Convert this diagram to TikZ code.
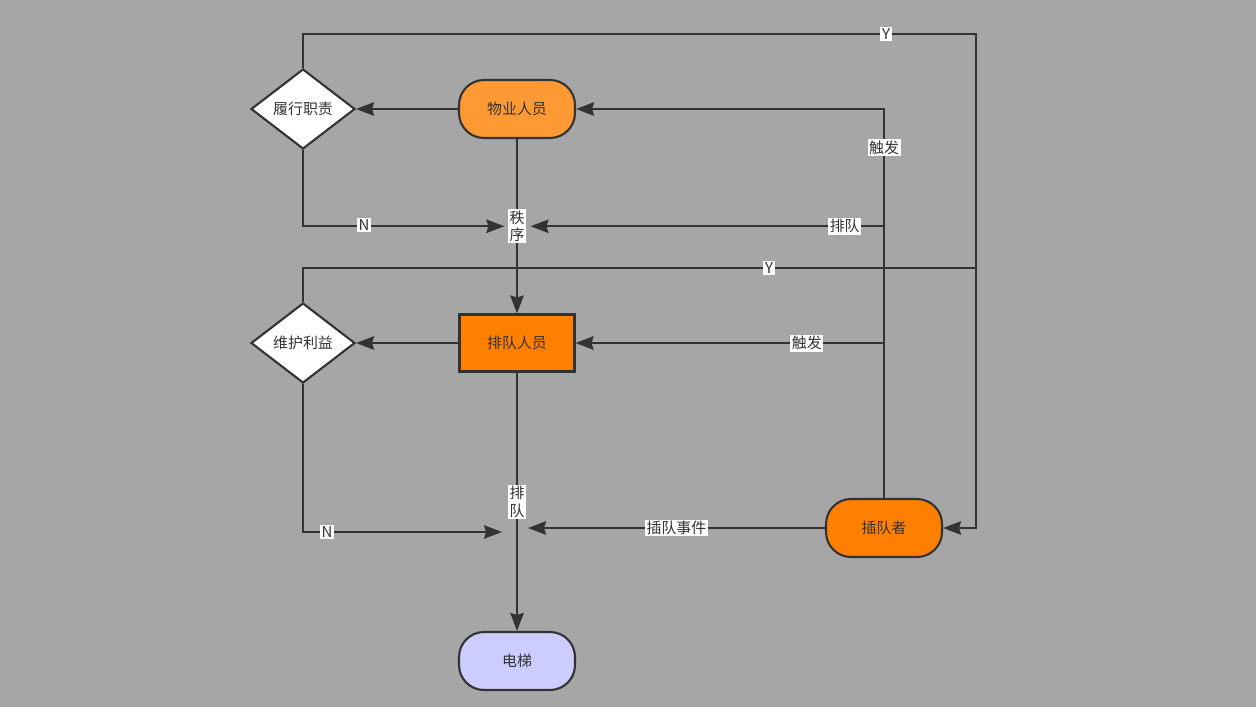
\documentclass[tikz,border=0pt]{standalone}
\usepackage{fontspec}
\setmainfont{Noto Sans CJK SC}
\usepackage{tikz}
\usetikzlibrary{shapes.geometric,arrows.meta}

\definecolor{bggray}{HTML}{A6A6A6}
\definecolor{linegray}{HTML}{333333}
\definecolor{staffor}{HTML}{FF9933}
\definecolor{queueor}{HTML}{FF8000}
\definecolor{liftblue}{HTML}{CCCCFF}

\tikzset{
  flow/.style={draw=linegray, line width=1.2pt, text=linegray, font=\fontsize{8.5}{10}\selectfont},
  pill/.style={flow, rectangle, rounded corners=0.5cm, minimum width=2.32cm, minimum height=1.16cm},
  box/.style={flow, rectangle, minimum width=2.3cm, minimum height=1.14cm},
  choice/.style={flow, diamond, fill=white, minimum width=2.08cm, minimum height=1.6cm, inner sep=0pt},
  lbl/.style={fill=white, inner sep=0.9pt, text=linegray, font=\fontsize{8.5}{10}\selectfont},
  link/.style={draw=linegray, line width=1.1pt},
  arr/.style={link, -{Stealth[length=0.36cm,width=0.27cm,inset=0.04cm]}},
}

\begin{document}
\begin{tikzpicture}[x=0.02cm,y=-0.02cm]

\fill[bggray] (0,0) rectangle (1256,707);

\node[choice] (duty) at (303,109) {履行职责};
\node[pill,fill=staffor] (staff) at (517,109) {物业人员};
\node[box,fill=queueor] (queue) at (517,343) {排队人员};
\node[choice] (guard) at (303,343) {维护利益};
\node[pill,fill=queueor] (cutter) at (884,528) {插队者};
\node[pill,fill=liftblue] (lift) at (517,661) {电梯};

\coordinate (topturn) at (976,34);
\coordinate (midturn) at (976,268);
\coordinate (mergeL) at (502,532);
\coordinate (mergeR) at (528,528);

% property staff
\draw[arr] (staff) -- (duty);
\draw[arr] (staff) -- node[lbl,align=center] (order) {秩\\序} (queue);
\draw[arr] (duty.north) |- (topturn) |- (cutter.east);
\node[lbl] (yes1) at (886,34) {Y};
\draw[arr,shorten >=1.5pt] (duty.south) |- (order.west);
\node[lbl] (no1) at (364,225) {N};

% queue jumper
\draw[arr] (cutter.north) |- node[lbl,pos=0.45] (trig1) {触发} (staff.east);
\draw[arr,shorten >=2pt] (cutter.north |- order.east) -- node[lbl,pos=0.11] (line1) {排队} (order.east);
\draw[arr] (cutter.north |- queue.east) -- node[lbl,pos=0.25] (trig2) {触发} (queue.east);
\draw[arr] (cutter) -- node[lbl] (event) {插队事件} (mergeR);

% people in line
\draw[arr] (queue) -- (guard);
\draw[link] (guard.north) |- (midturn);
\node[lbl] (yes2) at (769,268) {Y};
\draw[arr] (guard.south) |- (mergeL);
\node[lbl] (no2) at (327,532) {N};
\draw[arr] (queue) -- node[lbl,align=center] (line2) {排\\队} (lift);

\end{tikzpicture}
\end{document}
